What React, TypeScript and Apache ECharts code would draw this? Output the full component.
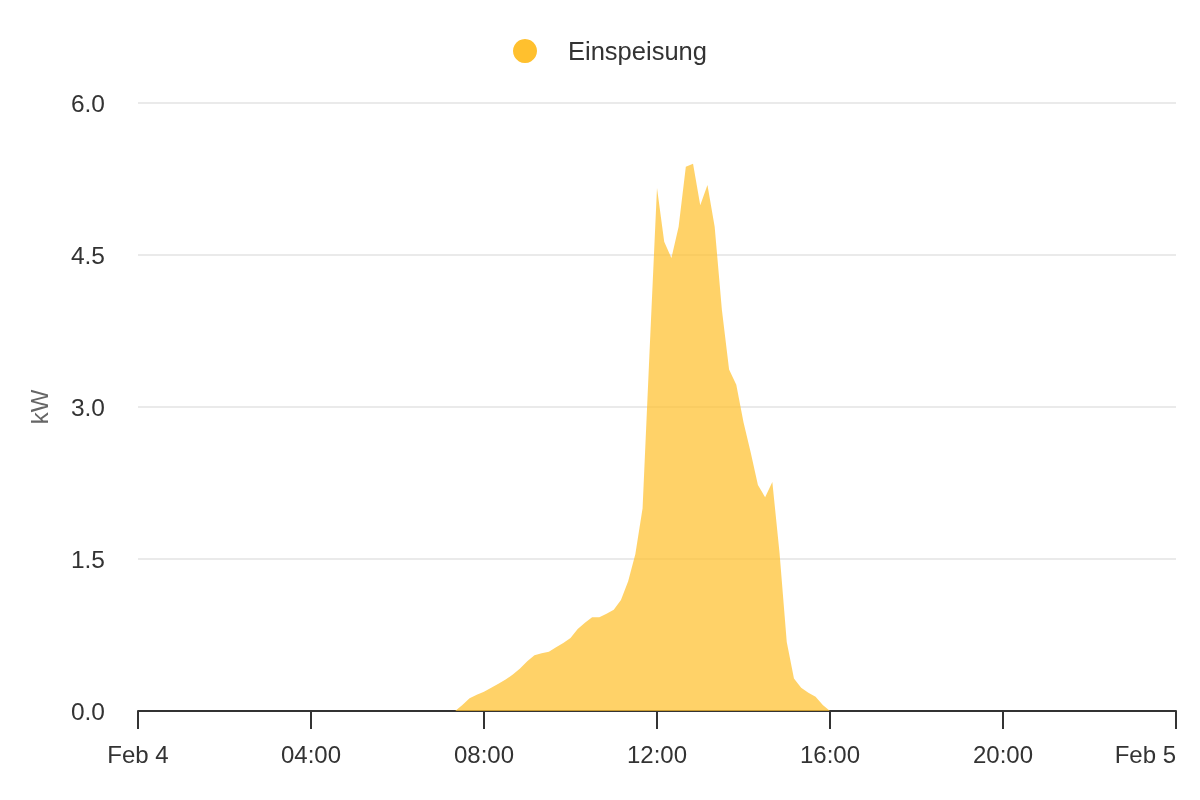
import React, { useEffect, useRef } from "react";
import * as echarts from "echarts";

const seriesName = "Einspeisung";
const times = [
  "00:00", "07:20", "07:30", "07:40", "07:50", "08:00", "08:10", "08:20", "08:30", "08:40", "08:50",
  "09:00", "09:10", "09:20", "09:30", "09:40", "09:50", "10:00", "10:10", "10:20", "10:30",
  "10:40", "10:50", "11:00", "11:10", "11:20", "11:30", "11:40", "11:50", "12:00", "12:10",
  "12:20", "12:30", "12:40", "12:50", "13:00", "13:10", "13:20", "13:30", "13:40", "13:50",
  "14:00", "14:10", "14:20", "14:30", "14:40", "14:50", "15:00", "15:10", "15:20", "15:30",
  "15:40", "15:50", "16:00", "24:00",
];
const values = [
  0, 0, 0.06, 0.125, 0.16, 0.19, 0.23, 0.27, 0.31, 0.36, 0.42,
  0.49, 0.55, 0.57, 0.585, 0.63, 0.67, 0.72, 0.81, 0.87, 0.925,
  0.925, 0.96, 1.0, 1.095, 1.28, 1.55, 2.0, 3.6, 5.16, 4.63,
  4.47, 4.78, 5.37, 5.4, 4.99, 5.19, 4.78, 3.96, 3.37, 3.22,
  2.85, 2.55, 2.23, 2.11, 2.26, 1.56, 0.68, 0.32, 0.23, 0.18,
  0.14, 0.06, 0, 0,
];
const yTicks = [0, 1.5, 3.0, 4.5, 6.0];
const xTickLabels: Record<number, string> = {
  0: "Feb 4", 4: "04:00", 8: "08:00", 12: "12:00", 16: "16:00", 20: "20:00", 24: "Feb 5",
};

const toHours = (t: string) => {
  const [h, m] = t.split(":").map(Number);
  return h + m / 60;
};

export default function App() {
  const ref = useRef<HTMLDivElement>(null);
  useEffect(() => {
    if (!ref.current) return;
    const chart = echarts.init(ref.current, undefined, { renderer: "svg" });
    const font = "'Liberation Sans', Arial, sans-serif";
    chart.setOption({
      animation: false,
      textStyle: { fontFamily: font },
      legend: {
        left: 508,
        top: 33,
        icon: "circle",
        itemWidth: 24,
        itemHeight: 24,
        textStyle: { fontSize: 25.5, color: "#333", fontFamily: font, padding: [0, 0, 0, 26] },
        data: [seriesName],
      },
      grid: { left: 138, right: 24, top: 103, bottom: 89, containLabel: false },
      xAxis: {
        type: "value",
        min: 0,
        max: 24,
        interval: 4,
        axisLine: { lineStyle: { color: "#333", width: 2 } },
        axisTick: { length: 18, lineStyle: { color: "#333", width: 2 } },
        splitLine: { show: false },
        axisLabel: {
          color: "#333",
          fontSize: 24,
          fontFamily: font,
          margin: 31,
          alignMaxLabel: "right",
          formatter: (v: number) => xTickLabels[v] ?? "",
        },
      },
      yAxis: {
        type: "value",
        min: yTicks[0],
        max: yTicks[yTicks.length - 1],
        interval: 1.5,
        name: "kW",
        nameLocation: "middle",
        nameGap: 87,
        nameTextStyle: { color: "#666", fontSize: 24, fontFamily: font },
        axisLine: { show: false },
        axisTick: { show: false },
        splitLine: { lineStyle: { color: "#e3e3e3", width: 1.5 } },
        axisLabel: {
          color: "#333",
          fontSize: 24.5,
          fontFamily: font,
          margin: 33,
          formatter: (v: number) => v.toFixed(1),
        },
      },
      series: [
        {
          name: seriesName,
          type: "line",
          data: times.map((t, i) => [toHours(t), values[i]]),
          showSymbol: false,
          symbol: "circle",
          itemStyle: { color: "#FFC02E" },
          lineStyle: { width: 0, color: "#FFC02E" },
          areaStyle: { color: "#FFC02E", opacity: 0.72 },
        },
      ],
    });
    return () => chart.dispose();
  }, []);
  return <div ref={ref} style={{ position: "fixed", left: 0, top: 0, width: 1200, height: 800 }} />;
}
